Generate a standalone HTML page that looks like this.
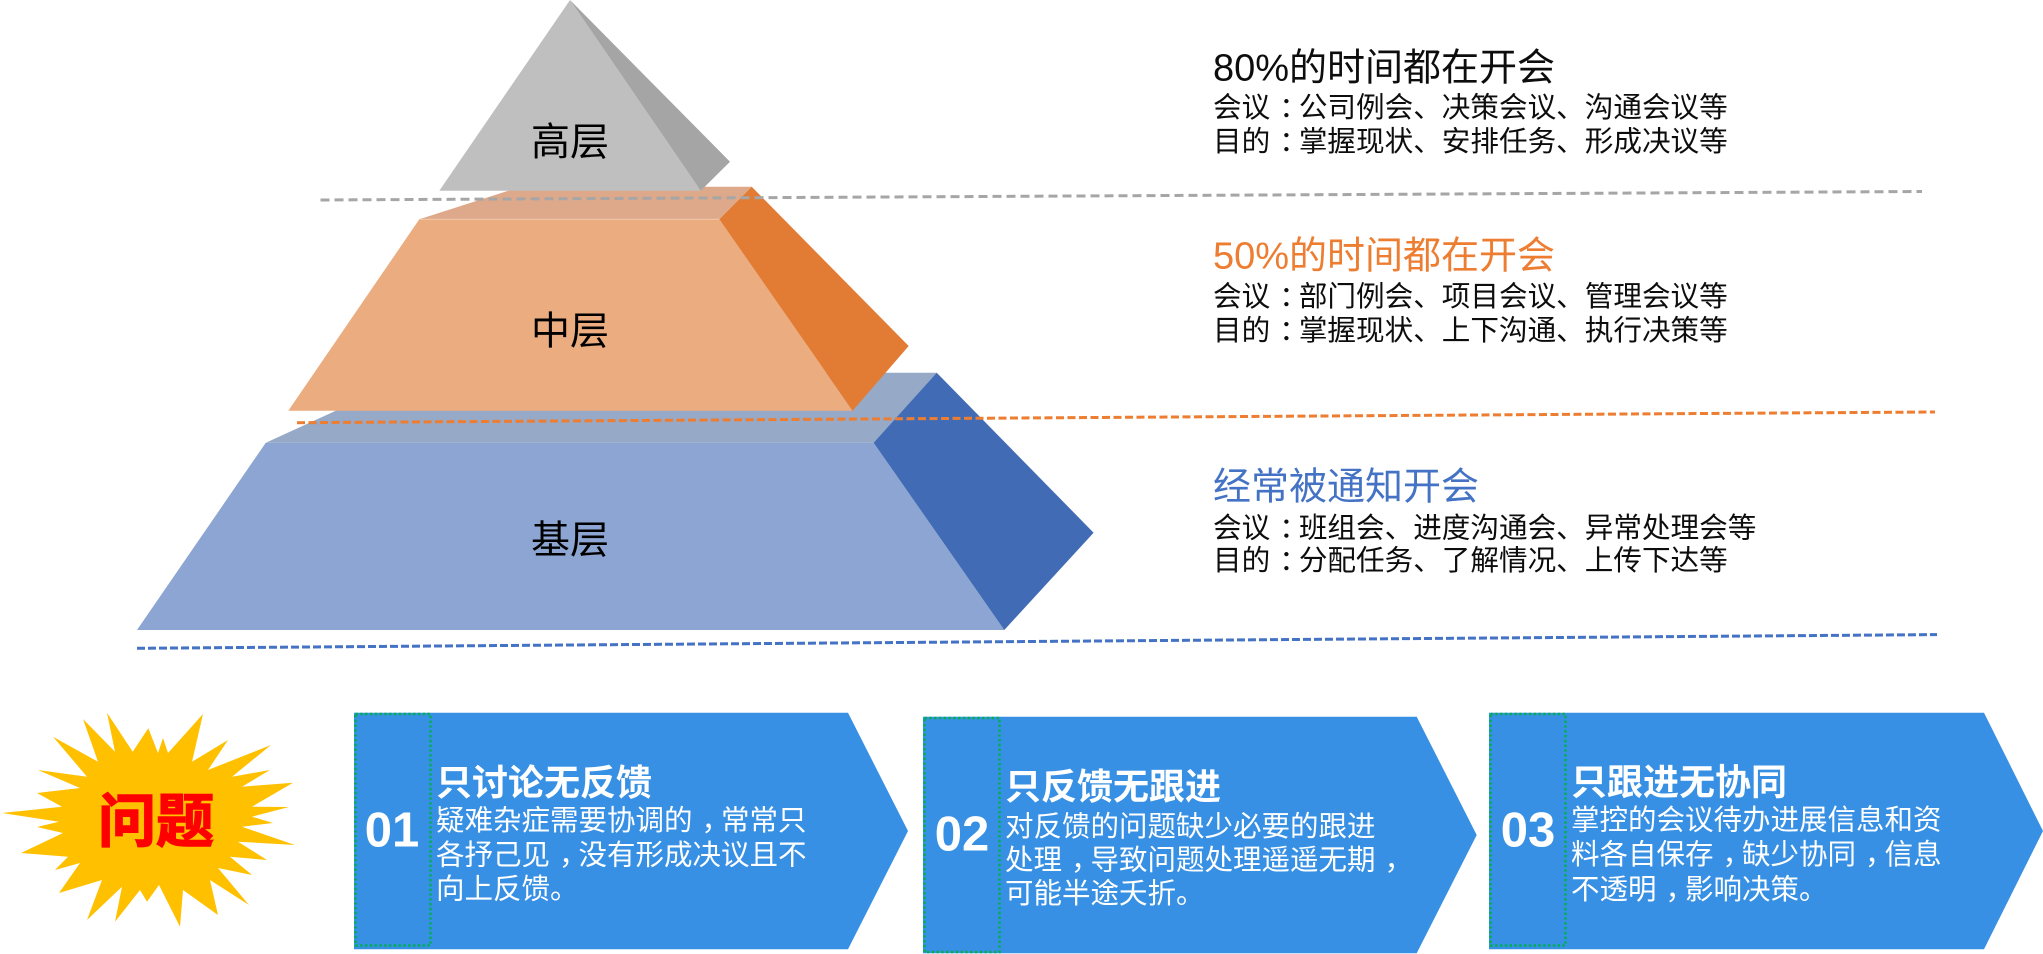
<!DOCTYPE html>
<html>
<head>
<meta charset="utf-8">
<style>
  html,body{margin:0;padding:0;background:#ffffff;}
  body{width:2043px;height:954px;overflow:hidden;}
  svg{display:block;}
  text{font-family:"Liberation Sans","Noto Sans CJK SC",sans-serif;}
</style>
</head>
<body>
<svg width="2043" height="954" viewBox="0 0 2043 954" xmlns="http://www.w3.org/2000/svg">
  <rect x="0" y="0" width="2043" height="954" fill="#ffffff"/>

  <!-- blue dashed line (behind) -->
  <line x1="137" y1="648.3" x2="1937" y2="634.6" stroke="#4472C4" stroke-width="3" stroke-dasharray="8 3"/>

  <!-- Bottom layer -->
  <polygon points="265.8,442.7 419,372.7 936.7,372.7 873.6,442.7" fill="#96A9C7"/>
  <polygon points="265.8,442.7 873.6,442.7 1004.3,630 137,630" fill="#8CA5D2"/>
  <polygon points="873.6,442.7 936.7,372.7 1093.6,532.7 1004.3,630" fill="#416CB5"/>

  <!-- Middle layer -->
  <polygon points="419.3,219.3 520.7,186.7 751.7,186.7 719.3,219.3" fill="#DDA98A"/>
  <polygon points="419.3,219.3 719.3,219.3 852.6,410.7 288.3,410.7" fill="#EBAC7F"/>
  <line x1="419.3" y1="219.3" x2="719.3" y2="219.3" stroke="#F3C9AE" stroke-width="1"/>
  <polygon points="719.3,219.3 751.7,186.7 908.7,346 852.6,410.7" fill="#E27B34"/>

  <!-- Top triangle -->
  <polygon points="570,0 700.7,190.7 439.3,190.7" fill="#BFBFBF"/>
  <polygon points="570,0 730,161.7 700.7,190.7" fill="#A5A5A5"/>

  <!-- gray & orange dashed lines -->
  <line x1="320.5" y1="200" x2="1922" y2="191.5" stroke="#A6A6A6" stroke-width="3" stroke-dasharray="9 5"/>
  <line x1="297" y1="422.7" x2="1935" y2="412" stroke="#ED7D31" stroke-width="3" stroke-dasharray="8 3.5"/>

  <!-- Pyramid labels -->
  <text x="570" y="155.5" font-size="39" text-anchor="middle" fill="#000">高层</text>
  <text x="570" y="344.5" font-size="39" text-anchor="middle" fill="#000">中层</text>
  <text x="570" y="553.5" font-size="39" text-anchor="middle" fill="#000">基层</text>

  <!-- Right descriptions -->
  <text x="1213" y="80.6" font-size="38" fill="#0D0D0D">80%的时间都在开会</text>
  <text x="1213" y="116.8" font-size="28.6" fill="#0D0D0D">会议<tspan dx="9">：</tspan><tspan dx="-9">公司例会、决策会议、沟通会议等</tspan></text>
  <text x="1213" y="151" font-size="28.6" fill="#0D0D0D">目的<tspan dx="9">：</tspan><tspan dx="-9">掌握现状、安排任务、形成决议等</tspan></text>

  <text x="1213" y="268.6" font-size="38" fill="#ED7D31">50%的时间都在开会</text>
  <text x="1213" y="306" font-size="28.6" fill="#0D0D0D">会议<tspan dx="9">：</tspan><tspan dx="-9">部门例会、项目会议、管理会议等</tspan></text>
  <text x="1213" y="340" font-size="28.6" fill="#0D0D0D">目的<tspan dx="9">：</tspan><tspan dx="-9">掌握现状、上下沟通、执行决策等</tspan></text>

  <text x="1213" y="499.6" font-size="38" fill="#4472C4">经常被通知开会</text>
  <text x="1213" y="537.7" font-size="28.6" fill="#0D0D0D">会议<tspan dx="9">：</tspan><tspan dx="-9">班组会、进度沟通会、异常处理会等</tspan></text>
  <text x="1213" y="570" font-size="28.6" fill="#0D0D0D">目的<tspan dx="9">：</tspan><tspan dx="-9">分配任务、了解情况、上传下达等</tspan></text>

  <!-- Starburst -->
  <polygon fill="#FFC000" points="107,712.7 132.7,751.7 148.3,728.3 158,753 163,738 168,753 203,714 192,761.7 228,740 208,770 271,745 232,776.7 270,770 242,786.7 293,782.7 252,806.7 289,807 252,816.7 273,823 242,826.7 295,845 238,841.7 267,860 230,856.7 252,875 218,868 249,905 210,880 218,915 183,890 180,926.7 159,885 147,901.7 140,890 115,921.7 122,886.7 87,920 102,880 59,893 80,863 55,870 68,856.7 21,853 63,833 37,827 59,821.7 2,813 62,806.7 37,793 80,788 38,770 87,776.7 53,736.7 98,761.7 83,719 115,751.7"/>
  <text x="156" y="841.5" font-size="58" font-weight="bold" text-anchor="middle" fill="#FF0000" stroke="#FF0000" stroke-width="1.5">问题</text>

  <!-- Box 01 -->
  <polygon points="354,712.7 848,712.7 908,831 848,949.3 354,949.3" fill="#3790E3"/>
  <rect x="355.5" y="714" width="75" height="231.5" fill="none" stroke="#00B050" stroke-width="2.4" stroke-dasharray="2.4 2.4"/>
  <text x="392" y="846.7" font-size="49" font-weight="bold" text-anchor="middle" fill="#FFFFFF">01</text>
  <text x="436" y="794.9" font-size="36" font-weight="bold" fill="#FFFFFF">只讨论无反馈</text>
  <text x="436" y="830.2" font-size="28.5" fill="#FFFFFF">疑难杂症需要协调的<tspan dx="9">，</tspan><tspan dx="-9">常常只</tspan></text>
  <text x="436" y="864.4" font-size="28.5" fill="#FFFFFF">各抒己见<tspan dx="9">，</tspan><tspan dx="-9">没有形成决议且不</tspan></text>
  <text x="436" y="898.6" font-size="28.5" fill="#FFFFFF">向上反馈。</text>

  <!-- Box 02 -->
  <polygon points="923,716.7 1416.7,716.7 1476.7,835 1416.7,953.3 923,953.3" fill="#3790E3"/>
  <rect x="924.5" y="718" width="75" height="234" fill="none" stroke="#00B050" stroke-width="2.4" stroke-dasharray="2.4 2.4"/>
  <text x="962" y="850.5" font-size="49" font-weight="bold" text-anchor="middle" fill="#FFFFFF">02</text>
  <text x="1005" y="798.8" font-size="36" font-weight="bold" fill="#FFFFFF">只反馈无跟进</text>
  <text x="1005" y="836" font-size="28.5" fill="#FFFFFF">对反馈的问题缺少必要的跟进</text>
  <text x="1005" y="869.5" font-size="28.5" fill="#FFFFFF">处理<tspan dx="9">，</tspan><tspan dx="-9">导致问题处理遥遥无期</tspan><tspan dx="9">，</tspan></text>
  <text x="1005" y="903" font-size="28.5" fill="#FFFFFF">可能半途夭折。</text>

  <!-- Box 03 -->
  <polygon points="1489,712.7 1984,712.7 2043,831 1984,949.3 1489,949.3" fill="#3790E3"/>
  <rect x="1490.5" y="714" width="75" height="231.5" fill="none" stroke="#00B050" stroke-width="2.4" stroke-dasharray="2.4 2.4"/>
  <text x="1528" y="846.7" font-size="49" font-weight="bold" text-anchor="middle" fill="#FFFFFF">03</text>
  <text x="1571" y="794.7" font-size="36" font-weight="bold" fill="#FFFFFF">只跟进无协同</text>
  <text x="1571" y="829.5" font-size="28.5" fill="#FFFFFF">掌控的会议待办进展信息和资</text>
  <text x="1571" y="864.2" font-size="28.5" fill="#FFFFFF">料各自保存<tspan dx="9">，</tspan><tspan dx="-9">缺少协同</tspan><tspan dx="9">，</tspan><tspan dx="-9">信息</tspan></text>
  <text x="1571" y="898.8" font-size="28.5" fill="#FFFFFF">不透明<tspan dx="9">，</tspan><tspan dx="-9">影响决策。</tspan></text>
</svg>
</body>
</html>
